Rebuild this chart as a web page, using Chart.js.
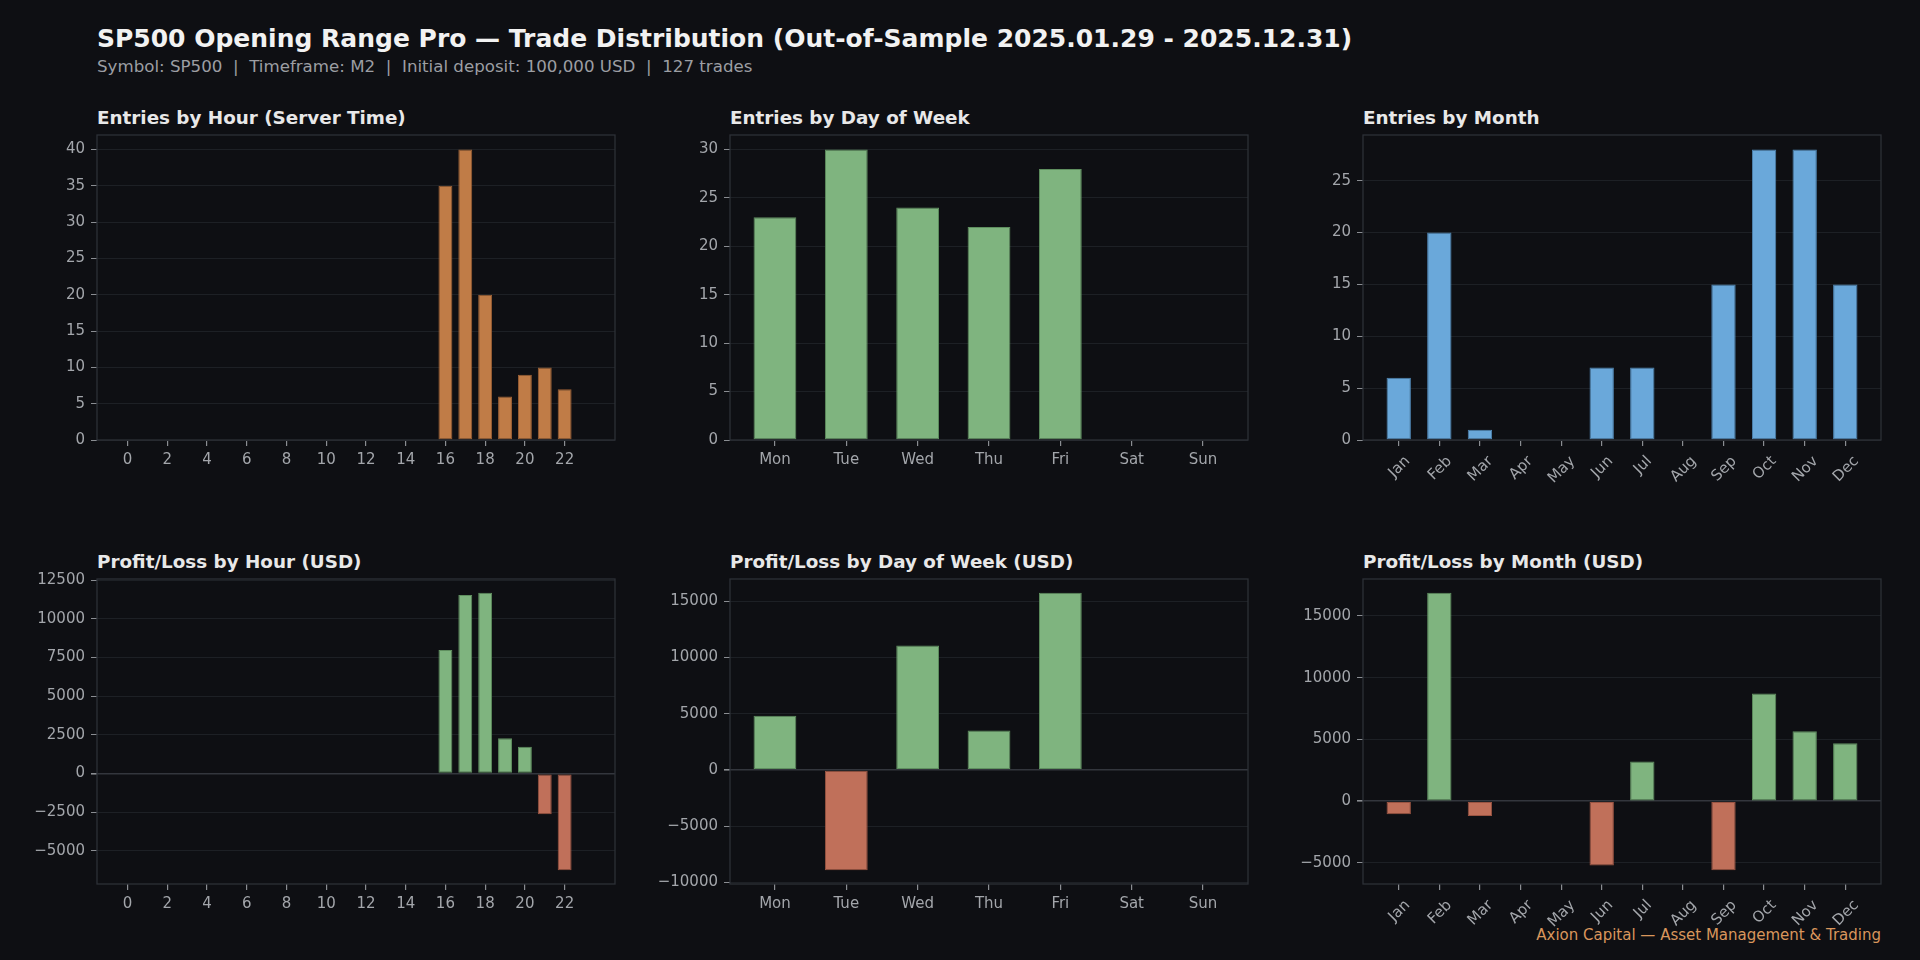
<!DOCTYPE html>
<html><head><meta charset="utf-8">
<script src="https://cdn.jsdelivr.net/npm/chart.js@4.4.1/dist/chart.umd.min.js"></script>
<style>
html,body{margin:0;padding:0;background:#0e0f13;}
body{width:1920px;height:960px;position:relative;overflow:hidden;font-family:"DejaVu Sans",sans-serif;}
.t{position:absolute;white-space:pre;line-height:1;}
canvas{position:absolute;}
</style></head><body>
<div class="t" style="left:97px;top:26px;font-size:25px;font-weight:bold;color:#f2f2f2">SP500 Opening Range Pro — Trade Distribution (Out-of-Sample 2025.01.29 - 2025.12.31)</div>
<div class="t" style="left:97px;top:59px;font-size:16.67px;color:#9c9ea3">Symbol: SP500  |  Timeframe: M2  |  Initial deposit: 100,000 USD  |  127 trades</div>
<div class="t" style="left:97px;top:109px;font-size:18.33px;font-weight:bold;color:#e8e8e8">Entries by Hour (Server Time)</div>
<div class="t" style="left:730px;top:109px;font-size:18.33px;font-weight:bold;color:#e8e8e8">Entries by Day of Week</div>
<div class="t" style="left:1363px;top:109px;font-size:18.33px;font-weight:bold;color:#e8e8e8">Entries by Month</div>
<div class="t" style="left:97px;top:553px;font-size:18.33px;font-weight:bold;color:#e8e8e8">Profit/Loss by Hour (USD)</div>
<div class="t" style="left:730px;top:553px;font-size:18.33px;font-weight:bold;color:#e8e8e8">Profit/Loss by Day of Week (USD)</div>
<div class="t" style="left:1363px;top:553px;font-size:18.33px;font-weight:bold;color:#e8e8e8">Profit/Loss by Month (USD)</div>
<div class="t" id="foot" style="left:1537px;top:928px;font-size:15px;color:#d9965c">Axion Capital — Asset Management &amp; Trading</div>
<script>
// ---- data ----
const HOURS = [0,1,2,3,4,5,6,7,8,9,10,11,12,13,14,15,16,17,18,19,20,21,22,23];
const HOUR_ENTRIES = [0,0,0,0,0,0,0,0,0,0,0,0,0,0,0,0,35,40,20,6,9,10,7,0];
const HOUR_PNL = [0,0,0,0,0,0,0,0,0,0,0,0,0,0,0,0,7980,11550,11680,2280,1740,-2630,-6240,0];
const HOUR_TICKS = [0,2,4,6,8,10,12,14,16,18,20,22];

const DAYS = ['Mon','Tue','Wed','Thu','Fri','Sat','Sun'];
const DAY_ENTRIES = [23,30,24,22,28,0,0];
const DAY_PNL = [4830,-8920,11080,3520,15760,0,0];

const MONTHS = ['Jan','Feb','Mar','Apr','May','Jun','Jul','Aug','Sep','Oct','Nov','Dec'];
const MONTH_ENTRIES = [6,20,1,0,0,7,7,0,15,28,28,15];
const MONTH_PNL = [-1050,16870,-1190,0,0,-5200,3210,0,-5580,8730,5660,4690];

const HOUR_ENTRY_TICKS = [0,5,10,15,20,25,30,35,40];
const HOUR_PNL_TICKS = [-5000,-2500,0,2500,5000,7500,10000,12500];
const DAY_ENTRY_TICKS = [0,5,10,15,20,25,30];
const DAY_PNL_TICKS = [-10000,-5000,0,5000,10000,15000];
const MONTH_ENTRY_TICKS = [0,5,10,15,20,25];
const MONTH_PNL_TICKS = [-5000,0,5000,10000,15000];

// ---- style ----
const GRID = '#1d2025', FRAME = '#2d3037', ZERO = '#33363d';
const TICK_COLOR = '#a3a6ab', TICKMARK = '#8a8d92';
const ORANGE = '#c07c47', ORANGE_E = '#9c6035';
const GREEN = '#7fb47f', GREEN_E = '#5f8f5f';
const RED = '#c0705a', RED_E = '#9a5442';
const BLUE = '#6aa8da', BLUE_E = '#4f86b3';
const COLS = [97, 730, 1363], ROWS = [135, 579], PW = 518, PH = 305;
const PADL = 95, PADR = 12, PADT = 20, PADB = 80;
const TICK_FONT = '15px "DejaVu Sans"';

// right-align footer with the right plot edge
(function () {
  const f = document.getElementById('foot');
  const right = COLS[2] + PW;
  f.style.left = (right - f.getBoundingClientRect().width) + 'px';
})();

const framePlugin = {
  id: 'frame',
  afterDatasetsDraw(chart) {
    const a = chart.chartArea, c = chart.ctx;
    c.save(); c.strokeStyle = FRAME; c.lineWidth = 1.3;
    c.strokeRect(a.left, a.top, a.right - a.left, a.bottom - a.top);
    c.restore();
  }
};

// rotated (45°) x labels, centred under their tick like the reference
const rotLabelPlugin = {
  id: 'rotLabels',
  afterDraw(chart, args, o) {
    if (!o || !o.labels) return;
    const sx = chart.scales.x, c = chart.ctx;
    const top = chart.chartArea.bottom + 6 + 6;
    const h = 17.5, s = Math.SQRT1_2;
    c.save();
    c.font = TICK_FONT; c.fillStyle = TICK_COLOR;
    c.textAlign = 'center'; c.textBaseline = 'middle';
    o.ticks.forEach((v, i) => {
      const txt = o.labels[i];
      const w = c.measureText(txt).width;
      const bh = (w + h) * s;
      c.save();
      c.translate(sx.getPixelForValue(v), top + bh / 2);
      c.rotate(-Math.PI / 4);
      c.fillText(txt, 0, 1);
      c.restore();
    });
    c.restore();
  }
};

function fmt(v) { return String(v).replace('-', '\u2212'); }

function makePanel(col, row, xs, ys, opt) {
  const cv = document.createElement('canvas');
  const W = PADL + PW + PADR, H = PADT + PH + PADB;
  cv.width = W; cv.height = H;
  cv.style.left = (COLS[col] - PADL) + 'px';
  cv.style.top = (ROWS[row] - PADT) + 'px';
  cv.style.width = W + 'px'; cv.style.height = H + 'px';
  document.body.appendChild(cv);

  const bw = opt.barW;
  const xlo = xs[0] - bw / 2, xhi = xs[xs.length - 1] + bw / 2, xp = 0.05 * (xhi - xlo);
  const dmin = Math.min(0, ...ys), dmax = Math.max(0, ...ys);
  let ymin, ymax;
  if (dmin === 0) { ymin = 0; ymax = dmax * 1.05; }
  else { const r = dmax - dmin; ymin = dmin - 0.05 * r; ymax = dmax + 0.05 * r; }
  const hasNeg = dmin < 0;

  const bg = ys.map(v => opt.signed ? (v >= 0 ? GREEN : RED) : opt.color);
  const be = ys.map(v => opt.signed ? (v >= 0 ? GREEN_E : RED_E) : opt.edge);

  new Chart(cv, {
    type: 'bar',
    data: { datasets: [{
      data: xs.map((x, i) => ({ x: x, y: ys[i] })),
      backgroundColor: bg, borderColor: be,
      borderWidth: ys.map(v => v === 0 ? 0 : 1),
      borderSkipped: false,
      categoryPercentage: 1, barPercentage: bw
    }]},
    options: {
      responsive: false, animation: false, devicePixelRatio: 1,
      layout: { padding: { left: 0, right: PADR, top: PADT, bottom: 0 } },
      plugins: {
        legend: { display: false }, tooltip: { enabled: false },
        rotLabels: opt.rot ? { ticks: opt.xTicks, labels: opt.xLabels } : false
      },
      scales: {
        x: {
          type: 'linear', min: xlo - xp, max: xhi + xp, offset: false,
          afterBuildTicks: ax => { ax.ticks = opt.xTicks.map(v => ({ value: v })); },
          afterFit: ax => { ax.height = PADB; },
          grid: { offset: false, drawOnChartArea: false, drawTicks: true, tickLength: 6, tickColor: TICKMARK, color: TICKMARK, lineWidth: 1.2 },
          border: { display: false },
          ticks: {
            display: !opt.rot,
            autoSkip: false, padding: 5, color: TICK_COLOR,
            font: { family: 'DejaVu Sans', size: 15 },
            maxRotation: 0, minRotation: 0,
            callback: v => opt.xLabels ? opt.xLabels[v] : String(v)
          }
        },
        y: {
          type: 'linear', min: ymin, max: ymax,
          afterBuildTicks: ax => { ax.ticks = opt.yTicks.map(v => ({ value: v })); },
          afterFit: ax => { ax.width = PADL; },
          grid: {
            offset: false, drawTicks: true, tickLength: 6, tickColor: TICKMARK,
            color: c => (hasNeg && c.tick && c.tick.value === 0) ? ZERO : GRID,
            lineWidth: c => (hasNeg && c.tick && c.tick.value === 0) ? 1.6 : 1
          },
          border: { display: false },
          ticks: {
            padding: 6, color: TICK_COLOR,
            font: { family: 'DejaVu Sans', size: 15 },
            callback: v => fmt(v)
          }
        }
      }
    },
    plugins: [framePlugin, rotLabelPlugin]
  });
}

const DAY_IDX = [0,1,2,3,4,5,6];
const MONTH_IDX = [0,1,2,3,4,5,6,7,8,9,10,11];

makePanel(0, 0, HOURS, HOUR_ENTRIES, { barW: 0.7, color: ORANGE, edge: ORANGE_E, xTicks: HOUR_TICKS, yTicks: HOUR_ENTRY_TICKS, rot: 0 });
makePanel(1, 0, DAY_IDX, DAY_ENTRIES, { barW: 0.6, color: GREEN, edge: GREEN_E, xTicks: DAY_IDX, xLabels: DAYS, yTicks: DAY_ENTRY_TICKS, rot: 0 });
makePanel(2, 0, MONTH_IDX, MONTH_ENTRIES, { barW: 0.6, color: BLUE, edge: BLUE_E, xTicks: MONTH_IDX, xLabels: MONTHS, yTicks: MONTH_ENTRY_TICKS, rot: 45 });
makePanel(0, 1, HOURS, HOUR_PNL, { barW: 0.7, signed: true, xTicks: HOUR_TICKS, yTicks: HOUR_PNL_TICKS, rot: 0 });
makePanel(1, 1, DAY_IDX, DAY_PNL, { barW: 0.6, signed: true, xTicks: DAY_IDX, xLabels: DAYS, yTicks: DAY_PNL_TICKS, rot: 0 });
makePanel(2, 1, MONTH_IDX, MONTH_PNL, { barW: 0.6, signed: true, xTicks: MONTH_IDX, xLabels: MONTHS, yTicks: MONTH_PNL_TICKS, rot: 45 });
</script>
</body></html>
